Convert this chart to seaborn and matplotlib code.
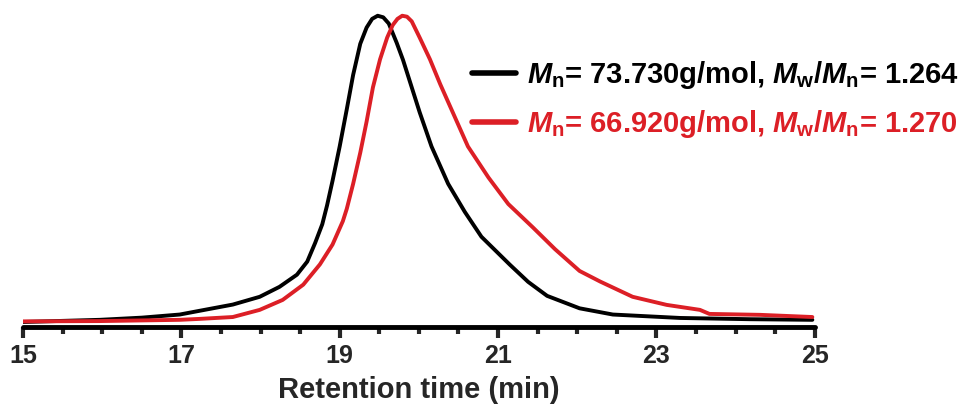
import matplotlib
matplotlib.use("Agg")
import matplotlib.pyplot as plt
import pandas as pd
import seaborn as sns

# GPC traces (normalised RI signal)
time_black = [15.00, 15.97, 16.50, 16.98, 17.23, 17.65, 17.99, 18.24, 18.46, 18.59,
              18.69, 18.78, 18.84, 18.91, 19.00, 19.09, 19.17, 19.26, 19.34, 19.41,
              19.48, 19.55, 19.62, 19.72, 19.80, 20.01, 20.16, 20.37, 20.58, 20.79,
              21.15, 21.38, 21.62, 22.03, 22.45, 23.30, 24.18, 24.97]
signal_black = [0.016, 0.023, 0.030, 0.040, 0.052, 0.072, 0.097, 0.129, 0.168, 0.210,
                0.270, 0.330, 0.390, 0.470, 0.580, 0.700, 0.810, 0.910, 0.962, 0.990,
                1.000, 0.995, 0.975, 0.913, 0.858, 0.690, 0.580, 0.460, 0.370, 0.290,
                0.200, 0.145, 0.100, 0.060, 0.040, 0.029, 0.025, 0.023]

time_red = [15.00, 15.97, 16.98, 17.23, 17.65, 17.99, 18.28, 18.54, 18.75, 18.91,
            19.04, 19.09, 19.17, 19.26, 19.34, 19.42, 19.51, 19.60, 19.67, 19.73,
            19.79, 19.85, 19.91, 20.01, 20.14, 20.27, 20.41, 20.62, 20.88, 21.13,
            21.44, 21.72, 22.03, 22.29, 22.70, 23.13, 23.55, 23.67, 24.31, 24.97]
signal_red = [0.018, 0.019, 0.023, 0.026, 0.032, 0.055, 0.087, 0.136, 0.201, 0.265,
              0.340, 0.380, 0.460, 0.560, 0.660, 0.770, 0.860, 0.930, 0.970, 0.990,
              1.000, 0.997, 0.982, 0.930, 0.860, 0.780, 0.700, 0.580, 0.480, 0.395,
              0.320, 0.250, 0.180, 0.146, 0.097, 0.071, 0.055, 0.042, 0.039, 0.032]

label_black = r"$M_\mathrm{n}$= 73.730g/mol, $M_\mathrm{w}$/$M_\mathrm{n}$= 1.264"
label_red = r"$M_\mathrm{n}$= 66.920g/mol, $M_\mathrm{w}$/$M_\mathrm{n}$= 1.270"

major_ticks = [15, 17, 19, 21, 23, 25]

df = pd.concat([
    pd.DataFrame({"time": time_black, "signal": signal_black, "sample": label_black}),
    pd.DataFrame({"time": time_red, "signal": signal_red, "sample": label_red}),
])

sns.set_style("white")
plt.rcParams["font.family"] = ["Liberation Sans", "DejaVu Sans"]
plt.rcParams["font.weight"] = "bold"
plt.rcParams["mathtext.fontset"] = "custom"
plt.rcParams["mathtext.it"] = "Liberation Sans:italic:bold"
plt.rcParams["mathtext.rm"] = "Liberation Sans:bold"

fig = plt.figure(figsize=(9.62, 4.07), dpi=100)
ax = fig.add_axes([0.0239, 0.1966, 0.823, 0.78])

sns.lineplot(data=df, x="time", y="signal", hue="sample", ax=ax,
             palette={label_black: "black", label_red: "#DC1F26"},
             linewidth=2.8, sort=False, estimator=None)
for line in ax.get_lines():
    line.set_solid_joinstyle("round")
    line.set_solid_capstyle("round")

ax.set_xlim(15, 25)
ax.set_ylim(0, 1.02)
ax.set_yticks([])
ax.set_ylabel("")
ax.set_xlabel("Retention time (min)", fontsize=21, fontweight="bold", labelpad=6)
ax.set_xticks(major_ticks)
ax.set_xticks([t / 2 for t in range(30, 51)], minor=True)
ax.tick_params(axis="x", which="major", direction="out", length=8, width=3,
               labelsize=18, pad=4, bottom=True)
ax.tick_params(axis="x", which="minor", direction="out", length=5, width=3, bottom=True)
for lab in ax.get_xticklabels():
    lab.set_fontweight("bold")

for side in ["top", "right", "left"]:
    ax.spines[side].set_visible(False)
ax.spines["bottom"].set_linewidth(3.5)
ax.spines["bottom"].set_color("black")
ax.spines["bottom"].set_capstyle("round")

leg = ax.legend(loc="upper left", bbox_to_anchor=(472 / 962, 1 - 59 / 407),
                bbox_transform=fig.transFigure, frameon=False, fontsize=21,
                handlelength=1.5, handletextpad=0.4, labelspacing=0.6,
                borderaxespad=0, borderpad=0, labelcolor="linecolor", title=None)
for line in leg.get_lines():
    line.set_linewidth(4)

fig.savefig("out.png", dpi=100)
